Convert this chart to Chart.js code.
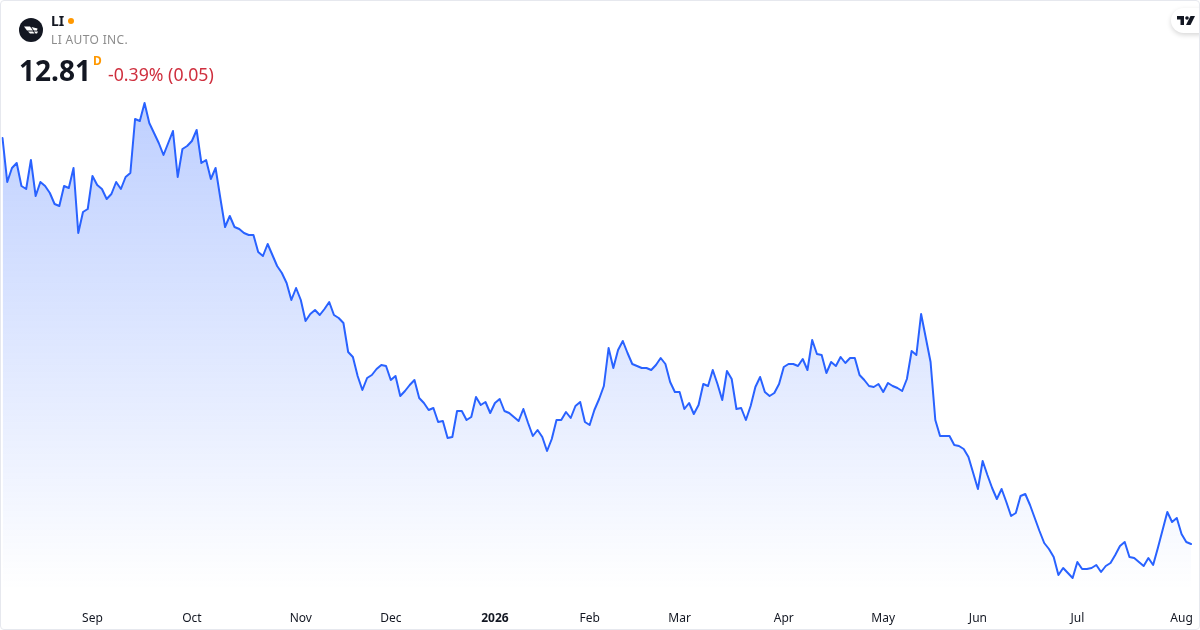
<!DOCTYPE html>
<html>
<head>
<meta charset="utf-8">
<title>LI</title>
<script src="https://cdn.jsdelivr.net/npm/chart.js@4"></script>
<style>
    html, body { margin: 0; padding: 0; background: #fff; }
    body { width: 1200px; height: 630px; overflow: hidden; position: relative; font-family: "Noto Sans", sans-serif; }
    #price-chart { position: absolute; left: 0; top: 0; }
    #frame { position: absolute; left: 0; top: 0; width: 1198px; height: 628px; border: 1px solid #e6e8ee; border-radius: 4px; pointer-events: none; }
    .label { position: absolute; white-space: nowrap; line-height: 1; }
    #symbol { left: 51px; top: 14px; font-size: 14px; font-weight: 700; color: #131722; }
    #dot { position: absolute; left: 68px; top: 18px; width: 6px; height: 6px; border-radius: 50%; background: #ff9800; }
    #company { left: 51px; top: 34px; font-size: 12px; color: #8c8c8c; letter-spacing: 0.35px; }
    #last-price { left: 19px; top: 56px; font-size: 28px; font-weight: 700; color: #131722; }
    #interval { left: 93px; top: 55px; font-size: 12px; font-weight: 700; color: #ff9800; }
    #change { left: 108px; top: 66px; font-size: 17.7px; color: #cf2f3e; }
    #logo { position: absolute; left: 19px; top: 18px; }
    #tv-badge { position: absolute; left: 1171px; top: 8px; width: 40px; height: 25px; background: #fff; border-radius: 13px; box-shadow: 0 2px 5px rgba(0, 0, 0, 0.16); }
    #tv-logo { position: absolute; left: 1177px; top: 16px; }
</style>
</head>
<body>
<canvas id="price-chart" width="1200" height="630"></canvas>
<div id="tv-badge"></div>
<div id="frame"></div>
<svg id="logo" width="24" height="24" viewBox="0 0 24 24">
    <circle cx="12" cy="12" r="12" fill="#131722"/>
    <path d="M5 8.5 L11 8.5 L14 12.5 L8 12.5 Z M12.5 9 L18.5 10.5 L18 12.5 L15 12.5 Z M9 13.5 L14 13.5 L15.5 15.5 L11 15.5 Z M15 13.5 L19 13.5 L18 15.5 L16.5 15.5 Z" fill="#fff"/>
</svg>
<div class="label" id="symbol">LI</div>
<div id="dot"></div>
<div class="label" id="company">LI AUTO INC.</div>
<div class="label" id="last-price">12.81</div>
<div class="label" id="interval">D</div>
<div class="label" id="change">-0.39% (0.05)</div>
<svg id="tv-logo" width="18" height="10" viewBox="0 0 18 10">
    <path d="M0 0 H7 V9 H3.5 V3.5 H0 Z" fill="#131722"/>
    <circle cx="10" cy="2" r="1.8" fill="#131722"/>
    <path d="M13.5 0 H18 L13.5 9 H9 Z" fill="#131722"/>
</svg>
<script>
const prices = [
    24.99, 23.67, 24.09, 24.24, 23.55, 23.46, 24.33, 23.25, 23.67, 23.55,
    23.34, 23.01, 22.95, 23.55, 23.49, 24.09, 22.14, 22.77, 22.86, 23.85,
    23.58, 23.46, 23.16, 23.31, 23.67, 23.46, 23.82, 23.94, 25.56, 25.50,
    26.04, 25.44, 25.14, 24.84, 24.48, 24.84, 25.20, 23.82, 24.66, 24.75,
    24.90, 25.23, 24.24, 24.33, 23.76, 24.09, 23.19, 22.32, 22.65, 22.32,
    22.26, 22.14, 22.08, 22.08, 21.57, 21.45, 21.81, 21.48, 21.15, 20.94,
    20.64, 20.13, 20.49, 20.13, 19.50, 19.71, 19.83, 19.68, 19.86, 20.07,
    19.68, 19.59, 19.44, 18.57, 18.42, 17.85, 17.43, 17.79, 17.88, 18.06,
    18.18, 18.15, 17.73, 17.85, 17.25, 17.40, 17.58, 17.73, 17.19, 17.04,
    16.83, 16.89, 16.47, 16.50, 15.99, 16.02, 16.80, 16.80, 16.53, 16.62,
    17.22, 16.98, 17.07, 16.74, 17.04, 17.16, 16.80, 16.74, 16.62, 16.50,
    16.86, 16.44, 16.05, 16.23, 16.02, 15.60, 15.96, 16.53, 16.53, 16.77,
    16.59, 16.95, 17.07, 16.47, 16.38, 16.83, 17.16, 17.55, 18.69, 18.09,
    18.63, 18.90, 18.54, 18.21, 18.15, 18.09, 18.09, 18.03, 18.18, 18.39,
    18.21, 17.67, 17.37, 17.37, 16.86, 17.04, 16.71, 16.98, 17.61, 17.55,
    18.03, 17.61, 17.13, 18.00, 17.76, 16.86, 16.89, 16.53, 16.95, 17.52,
    17.82, 17.37, 17.25, 17.34, 17.61, 18.12, 18.21, 18.21, 18.15, 18.36,
    18.03, 18.93, 18.51, 18.48, 17.94, 18.27, 18.15, 18.42, 18.24, 18.39,
    18.39, 17.88, 17.73, 17.55, 17.52, 17.61, 17.37, 17.64, 17.55, 17.49,
    17.40, 17.76, 18.60, 18.48, 19.71, 18.99, 18.27, 16.53, 16.05, 16.05,
    16.05, 15.78, 15.75, 15.66, 15.42, 14.94, 14.46, 15.30, 14.88, 14.49,
    14.16, 14.46, 14.07, 13.65, 13.74, 14.25, 14.31, 13.98, 13.59, 13.20,
    12.84, 12.66, 12.42, 11.88, 12.09, 11.94, 11.79, 12.27, 12.06, 12.06,
    12.09, 12.18, 11.97, 12.15, 12.24, 12.48, 12.75, 12.87, 12.42, 12.39,
    12.27, 12.15, 12.39, 12.18, 12.69, 13.23, 13.77, 13.47, 13.59, 13.11,
    12.87, 12.81
];

// index of the first session of each month, as the axis labels them
const monthIndexes = [19, 40, 63, 82, 104, 124, 143, 165, 186, 206, 227, 249];
const monthLabels = ['Sep', 'Oct', 'Nov', 'Dec', '2026', 'Feb', 'Mar', 'Apr', 'May', 'Jun', 'Jul', 'Aug'];
const yearLabels = ['2026'];

const yMin = 11.43;
const yMax = 29.13;

function tickLabel(index) {
    const pos = monthIndexes.indexOf(index);
    return pos === -1 ? '' : monthLabels[pos];
}

function areaGradient(context) {
    const chart = context.chart;
    if (!chart.chartArea) {
        return 'rgba(41, 98, 255, 0.3)';
    }
    const top = chart.scales.y.getPixelForValue(Math.max(...prices));
    const gradient = chart.ctx.createLinearGradient(0, top, 0, chart.chartArea.bottom);
    gradient.addColorStop(0, 'rgba(41, 98, 255, 0.3)');
    gradient.addColorStop(1, 'rgba(41, 98, 255, 0)');
    return gradient;
}

new Chart(document.getElementById('price-chart'), {
    type: 'line',
    data: {
        labels: prices.map((p, i) => i),
        datasets: [{
            data: prices,
            borderColor: '#2962ff',
            borderWidth: 2,
            borderJoinStyle: 'round',
            borderCapStyle: 'round',
            backgroundColor: areaGradient,
            fill: 'start',
            pointRadius: 0,
            tension: 0
        }]
    },
    options: {
        responsive: false,
        animation: false,
        devicePixelRatio: 1,
        layout: {
            padding: { left: 2.5, right: 9, top: 0, bottom: 0 }
        },
        plugins: {
            legend: { display: false },
            tooltip: { enabled: false }
        },
        scales: {
            x: {
                type: 'category',
                offset: false,
                afterFit: (scale) => {
                    scale.height = 40;
                    scale.paddingLeft = 0;
                    scale.paddingRight = 0;
                },
                grid: { display: false, drawTicks: false },
                border: { display: false },
                ticks: {
                    autoSkip: false,
                    maxRotation: 0,
                    padding: 21,
                    color: '#131722',
                    callback: (value, index) => tickLabel(index),
                    font: (context) => ({
                        family: '"Noto Sans", sans-serif',
                        size: 12,
                        weight: yearLabels.includes(tickLabel(context.index)) ? 'bold' : 'normal'
                    })
                }
            },
            y: {
                display: false,
                min: yMin,
                max: yMax
            }
        }
    }
});
</script>
</body>
</html>
